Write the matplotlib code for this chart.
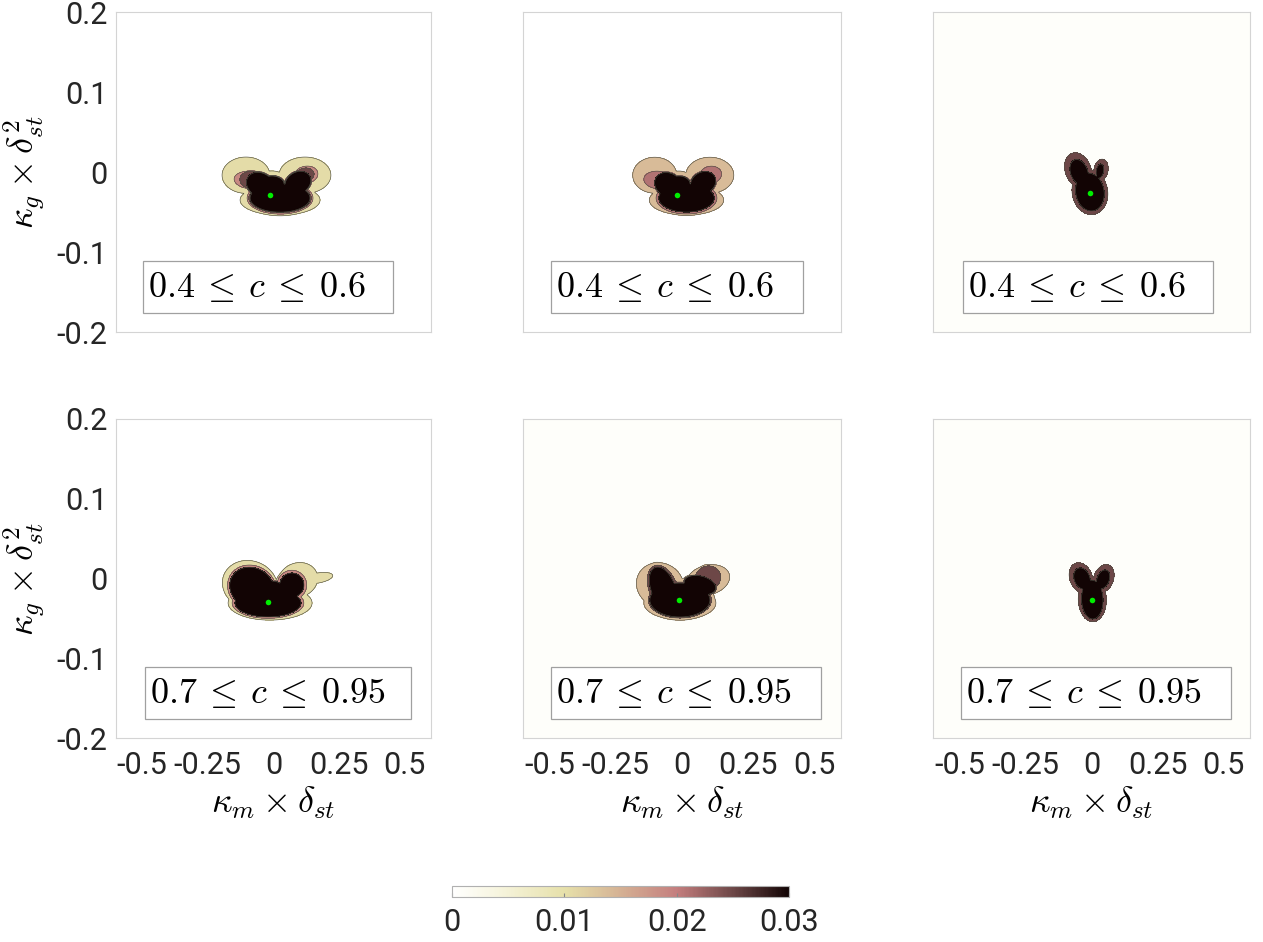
import numpy as np
import matplotlib
matplotlib.use('Agg')
import matplotlib.pyplot as plt
from matplotlib.colors import LinearSegmentedColormap, Normalize
from matplotlib.patches import Rectangle

plt.rcParams['font.family'] = ['Roboto', 'DejaVu Sans']
plt.rcParams['mathtext.fontset'] = 'cm'

# ---------------- data ----------------
cmap_pos = [0.0, 0.004, 0.01, 0.014, 0.02, 0.025, 0.03]
cmap_hex = ['#ffffff', '#f7f5df', '#e6e0aa', '#d8bb98', '#c47e7e', '#6e4848', '#120404']

range_labels = [r'$0.4\:\leq\:c\:\leq\:0.6$'] * 3 + [r'$0.7\:\leq\:c\:\leq\:0.95$'] * 3

# density blobs per panel:
# (centre x, centre y, semi-axis a, semi-axis b (x units), tilt deg, peak density)
blobs_top_left = [
    (-0.105, -0.0040, 0.095, 0.072, 0, 0.015), (0.120, -0.0040, 0.103, 0.072, 0, 0.015),
    (0.025, -0.0351, 0.159, 0.060, 0, 0.015), (-0.006, -0.010, 0.056, 0.036, 0, 0.015),
    (-0.092, -0.010, 0.064, 0.036, -5, 0.022), (0.124, -0.0035, 0.050, 0.036, 10, 0.022),
    (0.025, -0.0326, 0.138, 0.067, 0, 0.022),
    (-0.082, -0.010, 0.052, 0.037, -5, 0.0275), (0.120, -0.0035, 0.039, 0.029, 10, 0.0275),
    (-0.050, -0.016, 0.060, 0.048, -30, 0.036), (0.093, -0.0135, 0.056, 0.044, 30, 0.036),
    (0.025, -0.0326, 0.124, 0.058, 0, 0.036), (-0.006, -0.015, 0.050, 0.033, 0, 0.036),
]
blobs_top_mid = [
    (-0.103, -0.0040, 0.090, 0.074, 0, 0.017), (0.105, -0.0040, 0.098, 0.074, 0, 0.017),
    (0.017, -0.0351, 0.152, 0.062, 0, 0.017), (-0.012, -0.010, 0.053, 0.037, 0, 0.017),
    (-0.090, -0.010, 0.060, 0.037, -5, 0.024), (0.108, -0.0035, 0.046, 0.036, 10, 0.024),
    (0.017, -0.0326, 0.127, 0.067, 0, 0.024),
    (-0.052, -0.016, 0.058, 0.048, -30, 0.036), (0.080, -0.0135, 0.054, 0.044, 30, 0.036),
    (0.017, -0.0326, 0.114, 0.058, 0, 0.036), (-0.012, -0.015, 0.046, 0.033, 0, 0.036),
]
blobs_top_right = [
    (-0.006, -0.0251, 0.097, 0.076, 100, 0.0275), (-0.051, 0.0025, 0.076, 0.055, 110, 0.0275),
    (0.036, 0.0025, 0.047, 0.030, 80, 0.0275),
    (-0.006, -0.0251, 0.078, 0.058, 100, 0.036), (-0.047, 0.0000, 0.053, 0.035, 110, 0.036),
    (0.032, 0.0013, 0.029, 0.015, 80, 0.036),
]
blobs_bot_left = [
    (-0.090, -0.0082, 0.111, 0.096, -20, 0.015), (0.093, -0.0019, 0.080, 0.068, 20, 0.015),
    (0.169, 0.0006, 0.060, 0.020, 10, 0.015), (-0.013, -0.0307, 0.167, 0.068, 0, 0.015),
    (-0.006, -0.0145, 0.056, 0.040, 0, 0.015),
    (-0.082, -0.0119, 0.105, 0.093, -30, 0.022), (0.070, -0.0082, 0.062, 0.062, 0, 0.022),
    (-0.021, -0.0307, 0.146, 0.064, 0, 0.022),
    (-0.082, -0.0119, 0.095, 0.083, -30, 0.036), (0.070, -0.0082, 0.050, 0.050, 0, 0.036),
    (-0.021, -0.0307, 0.137, 0.058, 0, 0.036), (-0.006, -0.0144, 0.050, 0.037, 0, 0.036),
]
blobs_bot_mid = [
    (-0.083, -0.0082, 0.097, 0.089, -30, 0.018), (0.098, -0.0019, 0.089, 0.060, 15, 0.018),
    (-0.008, -0.0307, 0.145, 0.068, 0, 0.018), (0.011, -0.0119, 0.056, 0.040, 0, 0.018),
    (0.098, 0.0006, 0.055, 0.051, 30, 0.0275), (-0.072, -0.0119, 0.102, 0.060, -70, 0.0275),
    (-0.008, -0.0270, 0.132, 0.077, 0, 0.0275),
    (-0.072, -0.0119, 0.090, 0.049, -70, 0.036), (0.068, -0.0082, 0.066, 0.037, -15, 0.036),
    (-0.008, -0.0270, 0.123, 0.070, 0, 0.036),
]
blobs_bot_right = [
    (-0.040, 0.0010, 0.066, 0.048, 110, 0.0275), (0.046, 0.0000, 0.062, 0.042, 70, 0.0275),
    (0.003, -0.0265, 0.095, 0.060, 92, 0.0275),
    (-0.036, 0.0000, 0.045, 0.032, 110, 0.036), (0.044, -0.0010, 0.040, 0.025, 70, 0.036),
    (0.003, -0.0265, 0.080, 0.044, 92, 0.036),
]
panel_blobs = [blobs_top_left, blobs_top_mid, blobs_top_right,
               blobs_bot_left, blobs_bot_mid, blobs_bot_right]

panel_levels = [[0.0105, 0.019, 0.025, 0.030],
                [0.014, 0.021, 0.030],
                [0.025, 0.030],
                [0.0105, 0.019, 0.030],
                [0.014, 0.025, 0.030],
                [0.025, 0.030]]
floor_level = [0.0, 0.0, 0.0006, 0.0, 0.0006, 0.0006]

centroid_x = [-0.013, -0.019, -0.006, -0.021, -0.011, 0.002]
centroid_y = [-0.029, -0.029, -0.026, -0.029, -0.027, -0.027]

x_ticks = [-0.5, -0.25, 0.0, 0.25, 0.5]
x_tick_lab = ['-0.5', '-0.25', '0', '0.25', '0.5']
y_ticks = [-0.2, -0.1, 0.0, 0.1, 0.2]
y_tick_lab = ['-0.2', '-0.1', '0', '0.1', '0.2']
cbar_ticks = [0, 0.01, 0.02, 0.03]
cbar_lab = ['0', '0.01', '0.02', '0.03']

# ---------------- figure ----------------
W, H = 1263, 942
fig = plt.figure(figsize=(W / 100, H / 100), dpi=100)

cmap = LinearSegmentedColormap.from_list(
    'dens', [(p / 0.03, c) for p, c in zip(cmap_pos, cmap_hex)])
norm = Normalize(0, 0.03)

gx = np.linspace(-0.6, 0.6, 1000)
gy = np.linspace(-0.2, 0.2, 900)
X, Y = np.meshgrid(gx, gy)
ASPECT = 797.5 / 262.5   # y data unit measured in x data units on screen


def density(blobs, soft=0.1, p=16.0):
    acc = np.zeros_like(X)
    for cx, cy, a, b, ang, w in blobs:
        t = np.deg2rad(ang)
        U = X - cx
        V = (Y - cy) * ASPECT
        u = U * np.cos(t) + V * np.sin(t)
        v = -U * np.sin(t) + V * np.cos(t)
        d = np.sqrt((u / a) ** 2 + (v / b) ** 2)
        val = w * 0.5 * (1 - np.tanh((d - 1) / soft))
        acc += (val / 0.036) ** p
    return 0.036 * acc ** (1.0 / p)


col_px = [(116, 431), (523, 841), (933, 1250)]
row_px = [(12, 332), (419, 738)]
box_px = [[(143, 393), (551, 803), (963, 1213)],
          [(145, 411), (551, 821), (961, 1231)]]

for i in range(6):
    r, c = divmod(i, 3)
    x0, x1 = col_px[c]
    y0, y1 = row_px[r]
    ax = fig.add_axes([x0 / W, 1 - y1 / H, (x1 - x0) / W, (y1 - y0) / H])
    ax.set_facecolor(cmap(norm(floor_level[i])))
    Z = density(panel_blobs[i])
    lv = panel_levels[i]
    ax.contourf(X, Y, Z, levels=lv + [1.0], colors=[cmap(norm(v)) for v in lv])
    ax.contour(X, Y, Z, levels=lv, colors='#505045', linewidths=0.45)
    ax.plot(centroid_x[i], centroid_y[i], 'o', color='#00ee00', ms=4, mec='none')
    ax.set_xlim(-0.6, 0.6)
    ax.set_ylim(-0.2, 0.2)
    for s in ax.spines.values():
        s.set_color('#d4d4d4')
        s.set_linewidth(0.8)
    ax.tick_params(length=0, labelsize=22, colors='#262626')
    ax.tick_params(axis='x', pad=9)
    ax.tick_params(axis='y', pad=6)
    ax.set_xticks(x_ticks)
    ax.set_yticks(y_ticks)
    if r == 1:
        ax.set_xticklabels(x_tick_lab)
        ax.set_xlabel(r'$\kappa_m \times \delta_{st}$', fontsize=26, labelpad=4)
    else:
        ax.set_xticklabels([])
    if c == 0:
        ax.set_yticklabels(y_tick_lab)
        ax.set_ylabel(r'$\kappa_g \times \delta_{st}^2$', fontsize=26, labelpad=6)
    else:
        ax.set_yticklabels([])
    bx0, bx1 = box_px[r][c]
    ax.add_patch(Rectangle(((bx0 - x0) / (x1 - x0), 19 / (y1 - y0)),
                           (bx1 - bx0) / (x1 - x0), 52 / (y1 - y0),
                           transform=ax.transAxes, facecolor='white',
                           edgecolor='#a0a0a0', linewidth=0.9, zorder=5))
    ax.text((bx0 - x0 + 5) / (x1 - x0), (19 + 26) / (y1 - y0), range_labels[i],
            transform=ax.transAxes, fontsize=26, ha='left', va='center',
            color='black', zorder=6)

cax = fig.add_axes([452 / W, 1 - 897 / H, (789 - 452) / W, 11 / H])
sm = matplotlib.cm.ScalarMappable(norm=norm, cmap=cmap)
cb = fig.colorbar(sm, cax=cax, orientation='horizontal')
cb.set_ticks(cbar_ticks)
cb.set_ticklabels(cbar_lab)
cb.outline.set_edgecolor('#b0b0b0')
cb.outline.set_linewidth(0.8)
cax.tick_params(direction='in', length=3, color='#888888', labelsize=22,
                labelcolor='#262626', pad=8)

fig.savefig('out.png', dpi=100)
